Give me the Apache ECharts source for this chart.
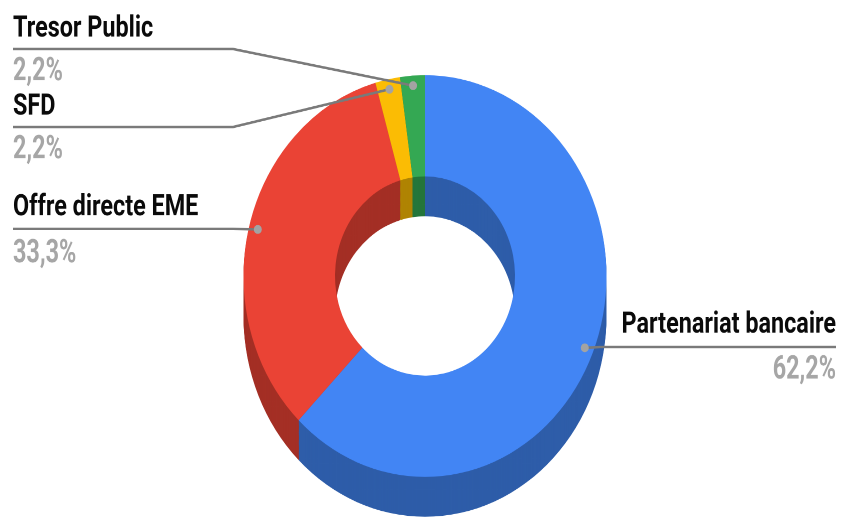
<!DOCTYPE html>
<html>
<head>
<meta charset="utf-8">
<title>Donut</title>
<style>
  html, body { margin: 0; padding: 0; background: #fff; }
  html { overflow: hidden; }
  body { height: 518px; }
  #chart { width: 842px; height: 468px; transform-origin: 0 0; transform: scaleY(1.1068); }
</style>
<script src="https://cdn.jsdelivr.net/npm/echarts@6/dist/echarts.min.js"></script>
</head>
<body>
<div id="chart"></div>
<script>
// Slices, clockwise from 12 o'clock
const categories = ['Partenariat bancaire', 'Offre directe EME', 'SFD', 'Tresor Public'];
const shares = [62.2, 33.3, 2.2, 2.2];
const topColors = ['#4285f4', '#ea4335', '#fbbc04', '#34a853'];
const wallColors = ['#2e5da9', '#a42f25', '#b08403', '#25763b'];

// Donut geometry in the unstretched drawing space
const STRETCH = 1.1068;
const cx = 425, cy = 249.4, rOuter = 181.5, rInner = 90, depth = 36;
const FONT = '700 23.4px Roboto, sans-serif';

const toY = y => y / STRETCH;

function ring(offset, colors) {
  return {
    type: 'pie', silent: true, animation: false, clockwise: true, startAngle: 90,
    center: [cx, cy + offset], radius: [rInner, rOuter],
    label: { show: false }, labelLine: { show: false },
    emphasis: { disabled: true },
    data: categories.map((name, i) => ({ name, value: shares[i], itemStyle: { color: colors[i] } }))
  };
}

// The wall is a stack of dark rings, the face sits on top of it
const series = [];
for (let d = depth; d >= 1; d--) series.push(ring(d, wallColors));
series.push(ring(0, topColors));

// Point on the slice's centre line, close to its outer edge
const total = shares.reduce((a, b) => a + b, 0);
function anchor(i) {
  const before = shares.slice(0, i).reduce((a, b) => a + b, 0);
  const a = (before + shares[i] / 2) / total * 2 * Math.PI;
  return [cx + Math.sin(a) * rOuter * 0.95, cy - Math.cos(a) * rOuter * 0.95];
}

// Callout placement per category: rule height, rule ends, text centres
const callouts = [
  { rule: 347, from: 836, elbow: 600, nameY: 325, pctY: 370, align: 'right', x: 836 },
  { rule: 229, from: 13, elbow: 233, nameY: 208, pctY: 254, align: 'left', x: 13 },
  { rule: 127, from: 13, elbow: 233, nameY: 107, pctY: 150, align: 'left', x: 13 },
  { rule: 49, from: 13, elbow: 233, nameY: 29, pctY: 72, align: 'left', x: 13 }
];

const graphics = [];
callouts.forEach((c, i) => {
  const p = anchor(i);
  graphics.push({
    type: 'polyline', z: 100, silent: true,
    shape: { points: [[c.from, toY(c.rule)], [c.elbow, toY(c.rule)], p] },
    style: { stroke: '#7a7a7a', lineWidth: 2.3, fill: null }
  });
  graphics.push({
    type: 'circle', z: 101, silent: true,
    shape: { cx: p[0], cy: p[1], r: 4 },
    style: { fill: '#a3a3a3' }
  });
  graphics.push({
    type: 'text', z: 102, silent: true, x: c.x, y: toY(c.nameY), scaleY: 1.16,
    style: { text: categories[i], font: FONT, fill: '#0a0a0a', textAlign: c.align, textVerticalAlign: 'middle' }
  });
  graphics.push({
    type: 'text', z: 102, silent: true, x: c.x, y: toY(c.pctY), scaleY: 1.28,
    style: { text: shares[i].toFixed(1).replace('.', ',') + '%', font: FONT, fill: '#a6a6a6', textAlign: c.align, textVerticalAlign: 'middle' }
  });
});

const chart = echarts.init(document.getElementById('chart'), null, { renderer: 'canvas', devicePixelRatio: 2 });
chart.setOption({
  animation: false,
  backgroundColor: '#ffffff',
  series,
  graphic: { elements: graphics }
});
</script>
</body>
</html>
